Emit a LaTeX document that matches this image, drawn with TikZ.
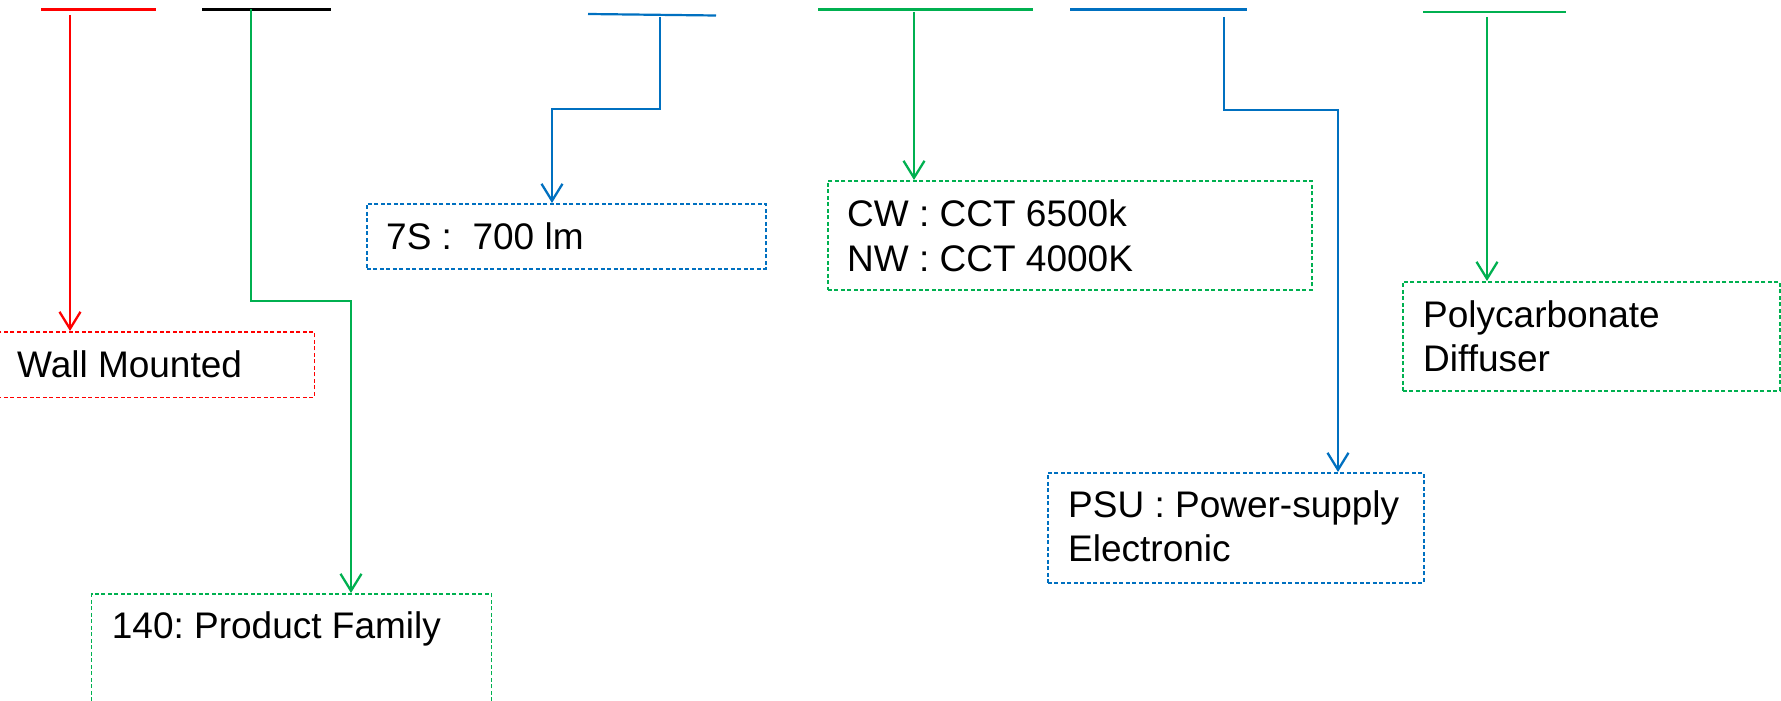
\documentclass[tikz,border=0pt]{standalone}
\usepackage{fontspec}
\setmainfont{Liberation Sans}
\usetikzlibrary{arrows.meta}
\definecolor{cred}{HTML}{FF0000}
\definecolor{cgreen}{HTML}{00B050}
\definecolor{cblue}{HTML}{0070C0}
\tikzset{
  bar/.style={line width=2.2pt},
  conn/.style={line width=2.3pt, -{Straight Barb[length=17pt,width=21pt]}},
  dbox/.style={draw, dash pattern=on 4pt off 2.5pt, line width=1.6pt, rectangle, inner sep=0pt, anchor=north west},
  txt/.style={inner sep=0pt, anchor=base west, font=\fontsize{37}{44.5}\selectfont}
}
\begin{document}
\frenchspacing
\begin{tikzpicture}[x=1pt,y=-1pt]
\useasboundingbox (0,0) rectangle (1781,701);
\clip (0,0) rectangle (1781,701);
% boxes
\node[dbox, draw=cred, minimum width=323.5pt, minimum height=65.5pt] (wall) at (-10,331) {};
\node[dbox, draw=cgreen, minimum width=400pt, minimum height=130pt] (pf) at (90.7,593) {};
\node[dbox, draw=cblue, minimum width=399pt, minimum height=65pt] (lm) at (366,203) {};
\node[dbox, draw=cgreen, minimum width=484pt, minimum height=109pt] (cct) at (827,180) {};
\node[dbox, draw=cblue, minimum width=376pt, minimum height=110pt] (psu) at (1047,472) {};
\node[dbox, draw=cgreen, minimum width=377pt, minimum height=109pt] (poly) at (1402,281) {};
% texts
\node[txt] (twall) at (17,377) {Wall Mounted};
\node[txt] (tpf) at (111.7,638) {140: Product Family};
\node[txt] (tlm) at (386,249) {7S :\ \ 700 lm};
\node[txt] (tcct1) at (847,226) {CW : CCT 6500k};
\node[txt] (tcct2) at (847,271) {NW : CCT 4000K};
\node[txt] (tpsu1) at (1068,517) {PSU : Power-supply};
\node[txt] (tpsu2) at (1068,561) {Electronic};
\node[txt] (tpoly1) at (1423,327) {Polycarbonate};
\node[txt] (tpoly2) at (1423,371) {Diffuser};
% top bars
\coordinate (r1) at (41,9.5);   \coordinate (r2) at (156,9.5);
\coordinate (k1) at (202,9.5);  \coordinate (k2) at (331,9.5);
\coordinate (b1) at (588,14);   \coordinate (b2) at (716,15.5);
\coordinate (g1) at (818,9.5);  \coordinate (g2) at (1033,9.5);
\coordinate (c1) at (1070,9.5); \coordinate (c2) at (1247,9.5);
\coordinate (p1) at (1423,12);  \coordinate (p2) at (1566,12);
\draw[bar, cred] (r1) -- (r2);
\draw[bar, black] (k1) -- (k2);
\draw[bar, cblue] (b1) -- (b2);
\draw[bar, cgreen] (g1) -- (g2);
\draw[bar, cblue] (c1) -- (c2);
\draw[bar, cgreen] (p1) -- (p2);
% connectors
\coordinate (rA) at (70,15);
\draw[conn, cred] (rA) -- (wall.north -| rA);
\coordinate (gA) at (251,9.5); \coordinate (gB) at (351,301);
\draw[conn, cgreen] (gA) |- (gB) -- (pf.north -| gB);
\coordinate (bA) at (660,17); \coordinate (bB) at (552,109);
\draw[conn, cblue] (bA) |- (bB) -- (lm.north -| bB);
\coordinate (gC) at (914,12);
\draw[conn, cgreen] (gC) -- (cct.north -| gC);
\coordinate (cA) at (1224,17); \coordinate (cB) at (1338,110);
\draw[conn, cblue] (cA) |- (cB) -- (psu.north -| cB);
\coordinate (pA) at (1487,17);
\draw[conn, cgreen] (pA) -- (poly.north -| pA);
\end{tikzpicture}
\end{document}
